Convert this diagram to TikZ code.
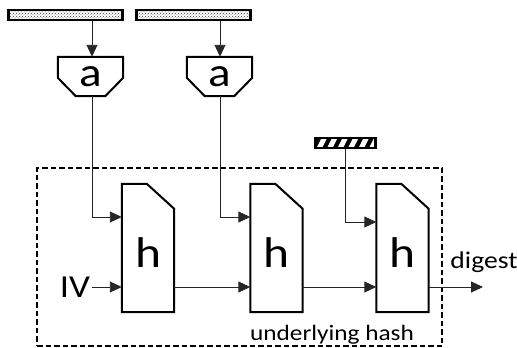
\documentclass[tikz,border=0pt]{standalone}
\usepackage{fontspec}
\setmainfont[FakeStretch=1.15]{Carlito}
\usetikzlibrary{arrows.meta,patterns,calc}

\tikzset{
  conn/.style={draw=black!85, line width=0.9pt, -{Triangle[length=12pt,width=11pt]}},
  outline/.style={draw=black, line width=2pt, line join=miter},
  dotbar/.style={draw=black, line width=2.2pt, pattern=crosshatch dots, pattern color=black!80,
    minimum width=114, minimum height=10, inner sep=0pt},
  stripebar/.style={draw=black, line width=2.2pt, minimum width=60, minimum height=10, inner sep=0pt,
    path picture={
      \fill[black] (path picture bounding box.south west) rectangle (path picture bounding box.north east);
      \foreach \i in {0,...,6}
        \fill[white] ([xshift=\i*10.5pt+1pt]path picture bounding box.south west)
          -- ++(5.5pt,0pt) -- ++(6pt,12pt) -- ++(-5.5pt,0pt) -- cycle;
    }},
  abox/.style={minimum width=65, minimum height=39, inner sep=0pt,
    font=\fontsize{41}{41}\selectfont},
  hbox/.style={minimum width=52, minimum height=128, inner sep=0pt,
    text height=38pt, text depth=0pt, font=\fontsize{43}{43}\selectfont},
  frame/.style={draw=black, line width=1.3pt, dash pattern=on 5.5pt off 3pt,
    minimum width=405, minimum height=178, inner sep=0pt},
  lbl/.style={inner sep=2pt, anchor=base, font=\fontsize{22}{22}\selectfont},
}

\begin{document}
\begin{tikzpicture}[x=1pt,y=-1pt]
  \useasboundingbox (0,0) rectangle (517,348);

  % enclosing hash function
  \node[frame] (frame) at (239.5,257) {};
  \node[lbl] (under) at (332,340) {underlying hash};

  % input blocks
  \node[dotbar] (bar1) at (65.5,15) {};
  \node[dotbar] (bar2) at (193.5,15) {};
  \node[stripebar] (bar3) at (345.5,143) {};

  % preprocessing boxes
  \node[abox] (a1) at (90.5,76.5) {a};
  \node[abox] (a2) at (219.5,76.5) {a};
  \foreach \n in {a1,a2}
    \draw[outline] (\n.north west) -- (\n.north east) -- ++(0,21)
      -- ($(\n.south east)+(-18,0)$) -- ($(\n.south west)+(18,0)$)
      -- ($(\n.north west)+(0,21)$) -- cycle;

  % compression function blocks
  \node[hbox] (h1) at (148,248) {h};
  \node[hbox] (h2) at (276.5,248) {h};
  \node[hbox] (h3) at (402.5,248) {h};
  \foreach \n in {h1,h2,h3}
    \draw[outline] (\n.south west) -- (\n.north west) -- ++(25,0)
      -- ($(\n.north east)+(0,25)$) -- (\n.south east) -- cycle;

  % labels
  \node[lbl, font=\fontsize{32}{32}\selectfont] (iv) at (75,297) {IV};
  \node[lbl, font=\fontsize{24}{24}\selectfont] (digest) at (484,268) {digest};

  % helper levels and ports
  \coordinate (chain) at (0,287);
  \coordinate (msg) at (0,217);
  \coordinate (key) at (0,222);
  \coordinate (out) at (483,287);
  \coordinate (a1in) at ($(a1.north)+(1.5,0)$);
  \coordinate (a2in) at ($(a2.north)+(0.5,0)$);
  \coordinate (a1out) at ($(a1.south)+(1.5,0)$);
  \coordinate (a2out) at ($(a2.south)+(0.5,0)$);

  % block inputs
  \draw[conn] (bar1.south -| a1in) -- (a1in);
  \draw[conn] (bar2.south -| a2in) -- (a2in);
  \draw[conn] (a1out) |- (h1.west |- msg);
  \draw[conn] (a2out) |- (h2.west |- msg);
  \draw[conn] (bar3.south) |- (h3.west |- key);

  % chaining values
  \draw[conn] (iv.east |- chain) -- (h1.west |- chain);
  \draw[conn] (h1.east |- chain) -- (h2.west |- chain);
  \draw[conn] (h2.east |- chain) -- (h3.west |- chain);
  \draw[conn] (h3.east |- chain) -- (out);
\end{tikzpicture}
\end{document}
